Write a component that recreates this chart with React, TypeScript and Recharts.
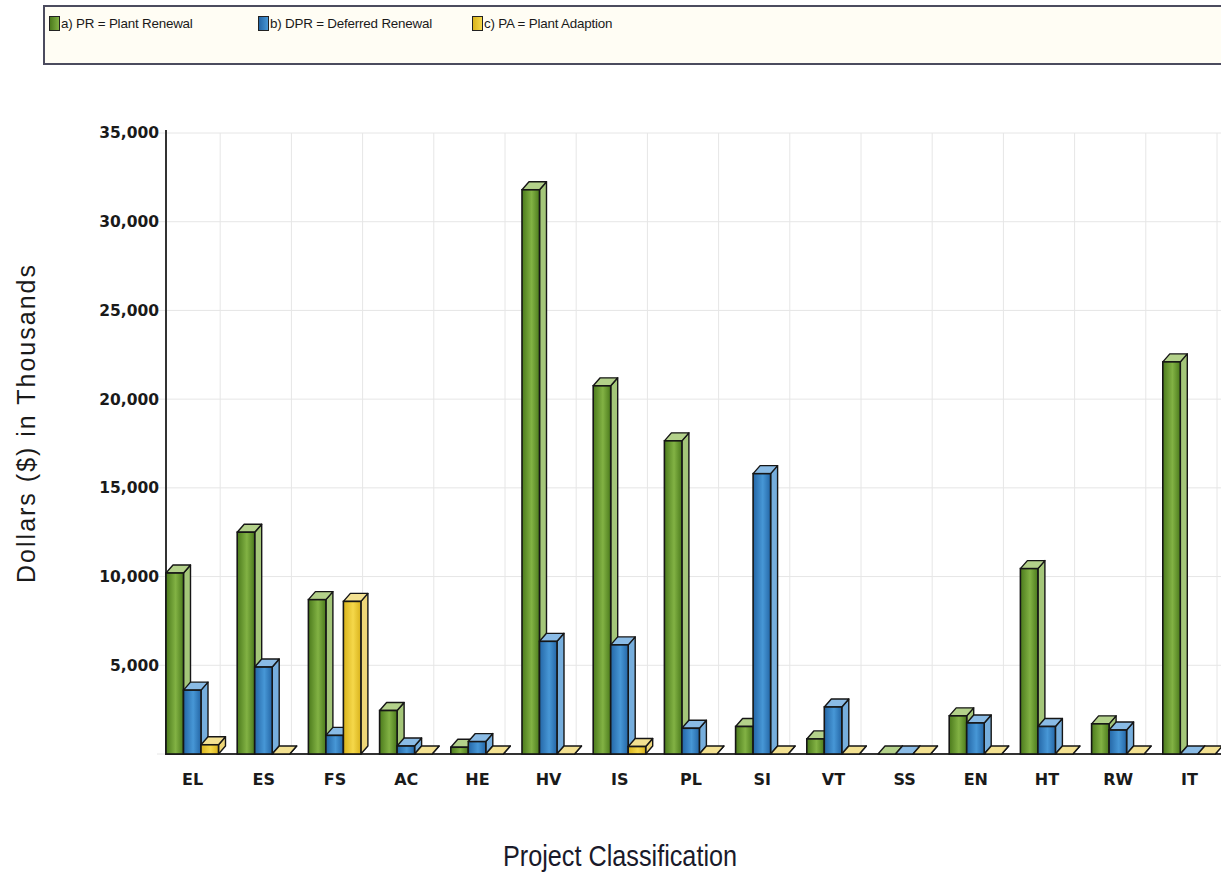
import React from 'react';
import { BarChart, Bar, XAxis, YAxis, CartesianGrid, Customized } from 'recharts';

const categories = ['EL', 'ES', 'FS', 'AC', 'HE', 'HV', 'IS', 'PL', 'SI', 'VT', 'SS', 'EN', 'HT', 'RW', 'IT'];
const plantRenewal = [10200, 12500, 8700, 2450, 380, 31800, 20750, 17650, 1550, 850, 0, 2150, 10450, 1700, 22100];
const deferredRenewal = [3600, 4900, 1050, 450, 700, 6350, 6150, 1450, 15800, 2650, 0, 1750, 1550, 1350, 0];
const plantAdaption = [520, 0, 8600, 0, 0, 0, 420, 0, 0, 0, 0, 0, 0, 0, 0];
const yTicks = [5000, 10000, 15000, 20000, 25000, 30000, 35000];

const data = categories.map((name, i) => ({
    name,
    pr: plantRenewal[i],
    dpr: deferredRenewal[i],
    pa: plantAdaption[i],
}));

const COLORS = {
    pr: { id: 'gPr', dark: '#4b7a1c', light: '#82b244', side: '#a4c679', top: '#b3d18a' },
    dpr: { id: 'gDpr', dark: '#2466a6', light: '#4797d6', side: '#76aedd', top: '#8abbe5' },
    pa: { id: 'gPa', dark: '#d9b31c', light: '#f5d84a', side: '#eed678', top: '#f3e192' },
};

const LEGEND = [
    { label: 'a) PR = Plant Renewal', c: COLORS.pr, left: 49 },
    { label: 'b) DPR = Deferred Renewal', c: COLORS.dpr, left: 258 },
    { label: 'c) PA = Plant Adaption', c: COLORS.pa, left: 472 },
];

const DX = 7;
const DY = 8;
const EDGE = '#161616';

function Box(props: any) {
    const { x, y, width, c } = props;
    const h = Math.max(props.height || 0, 0);
    const w = width;
    return (
        <g>
            <polygon
                points={`${x + w},${y} ${x + w + DX},${y - DY} ${x + w + DX},${y + h - DY} ${x + w},${y + h}`}
                fill={c.side}
                stroke={EDGE}
                strokeWidth={1.4}
                strokeLinejoin="round"
            />
            <polygon
                points={`${x},${y} ${x + DX},${y - DY} ${x + w + DX},${y - DY} ${x + w},${y}`}
                fill={c.top}
                stroke={EDGE}
                strokeWidth={1.4}
                strokeLinejoin="round"
            />
            {h > 0 && (
                <rect x={x} y={y} width={w} height={h} fill={`url(#${c.id})`} stroke={EDGE} strokeWidth={1.6} />
            )}
        </g>
    );
}

const YTick = (p: any) => (
    <text x={p.x + 2} y={p.y} dy="0.35em" textAnchor="end" fill="#1a1a1a"
        style={{ fontFamily: 'DejaVu Sans', fontWeight: 'bold', fontSize: 15.5 }}>
        {Number(p.payload.value).toLocaleString('en-US')}
    </text>
);

const XTick = (p: any) => (
    <text x={p.x} y={p.y + 17} textAnchor="middle" dy="0.35em" fill="#1a1a1a"
        style={{ fontFamily: 'DejaVu Sans', fontWeight: 'bold', fontSize: 16 }}>
        {p.payload.value}
    </text>
);

export default function App() {
    const W = 1240;
    const H = 874;
    const margin = { top: 133, right: 15, bottom: 90, left: 0 };

    const verticalLines = ({ offset }: any) => {
        const bw = offset.width / categories.length;
        return categories.map((_, i) => offset.left + (i + 1) * bw - 8);
    };

    return (
        <div style={{ position: 'absolute', left: 0, top: 0, width: 1221, height: 874, overflow: 'hidden', background: '#fff' }}>
            {/* Legend box */}
            <div
                style={{
                    position: 'absolute',
                    left: 43,
                    top: 5,
                    width: 1200,
                    height: 56,
                    background: '#fffdf4',
                    border: '2px solid #4b4b5e',
                }}
            />
            {LEGEND.map((l) => (
                <div key={l.label} style={{ position: 'absolute', left: l.left, top: 16, display: 'flex', alignItems: 'center' }}>
                    <div
                        style={{
                            width: 9,
                            height: 13,
                            border: '1px solid #222',
                            background: `linear-gradient(to right, ${l.c.dark}, ${l.c.light})`,
                        }}
                    />
                    <span style={{ fontFamily: 'Liberation Sans', fontSize: 13.4, color: '#1a1a1a', marginLeft: 1, letterSpacing: -0.2 }}>
                        {l.label}
                    </span>
                </div>
            ))}

            <div style={{ position: 'absolute', left: 0, top: 0 }}>
                <BarChart width={W} height={H} data={data} margin={margin} barGap={0} barSize={17.5}>
                    <defs>
                        {Object.values(COLORS).map((c) => (
                            <linearGradient key={c.id} id={c.id} x1="0" y1="0" x2="1" y2="0">
                                <stop offset="0%" stopColor={c.dark} />
                                <stop offset="55%" stopColor={c.light} />
                                <stop offset="100%" stopColor={c.dark} />
                            </linearGradient>
                        ))}
                    </defs>
                    <CartesianGrid stroke="#e6e6e6" strokeWidth={1} verticalCoordinatesGenerator={verticalLines} />
                    <XAxis
                        dataKey="name"
                        height={30}
                        axisLine={false}
                        tickLine={false}
                        tick={<XTick />}
                        interval={0}
                    />
                    <YAxis
                        domain={[0, 35000]}
                        ticks={yTicks}
                        axisLine={false}
                        tickLine={false}
                        tickSize={0}
                        tickMargin={0}
                        tick={<YTick />}
                        width={157}
                    />
                    <Bar dataKey="pr" isAnimationActive={false} shape={(p: any) => <Box {...p} c={COLORS.pr} />} />
                    <Bar dataKey="dpr" isAnimationActive={false} shape={(p: any) => <Box {...p} c={COLORS.dpr} />} />
                    <Bar dataKey="pa" isAnimationActive={false} shape={(p: any) => <Box {...p} c={COLORS.pa} />} />
                    <Customized
                        component={() => (
                            <g stroke="#333" strokeWidth={2}>
                                <line x1={166} y1={130} x2={166} y2={755} />
                                <line x1={165} y1={754} x2={1240} y2={754} />
                            </g>
                        )}
                    />
                    <text dy="0.35em" textAnchor="middle" fill="#1a1a2a" transform="translate(620,856) scale(0.87,1)"
                        style={{ fontFamily: 'Liberation Sans', fontSize: 29 }}>
                        Project Classification
                    </text>
                    <text dy="0.35em" textAnchor="middle" fill="#1a1a1a" transform="translate(26,423) rotate(-90)"
                        style={{ fontFamily: 'Liberation Sans', fontSize: 25, letterSpacing: 2 }}>
                        Dollars ($) in Thousands
                    </text>
                </BarChart>
            </div>
        </div>
    );
}
